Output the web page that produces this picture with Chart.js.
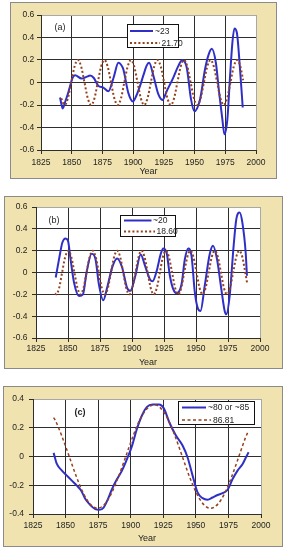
<!DOCTYPE html>
<html><head><meta charset="utf-8">
<script src="https://cdn.jsdelivr.net/npm/chart.js@4.4.1/dist/chart.umd.min.js"></script>
<style>
html,body{margin:0;padding:0;background:#fff;width:287px;height:550px;overflow:hidden;}
.box{position:absolute;box-sizing:border-box;background:#F0E3B0;border:1px solid #8a8a8a;}
canvas{position:absolute;}
</style></head><body>
<div class="box" style="left:10px;top:2px;width:267px;height:177px"></div>
<canvas id="ca" style="left:10px;top:2px" width="267" height="177"></canvas>
<div class="box" style="left:4px;top:196px;width:279px;height:173px"></div>
<canvas id="cb" style="left:4px;top:196px" width="279" height="173"></canvas>
<div class="box" style="left:3px;top:386px;width:280px;height:161px"></div>
<canvas id="cc" style="left:3px;top:386px" width="280" height="161"></canvas>
<script>
// ---------- data ----------
const xTicks = [1825, 1850, 1875, 1900, 1925, 1950, 1975, 2000];
const yTicksAB = [-0.6, -0.4, -0.2, 0, 0.2, 0.4, 0.6];
const yTicksC = [-0.4, -0.2, 0, 0.2, 0.4];
const panelNames = ['(a)', '(b)', '(c)'];

const labelsA = ['~23', '21.70'];
const blueA_x = [1840.5,1842.7,1844.5,1847.2,1850.8,1852.7,1858,1862,1865,1868,1871.7,1875.7,1879.8,1884,1888,1890,1892,1896,1899.8,1902.5,1905.6,1908.5,1911,1913,1916.5,1920.5,1923.8,1927.4,1932.7,1936.8,1940,1943.6,1947.1,1949.8,1954.5,1958.5,1961.5,1964,1967.3,1970,1972.6,1974.3,1976.7,1978.9,1980.8,1982.4,1984.4,1987,1989.2];
const blueA_y = [-0.133,-0.231,-0.178,-0.089,0.044,0.065,0.035,0.05,0.062,0.04,-0.03,-0.045,-0.078,0.04,0.175,0.16,0.118,-0.09,-0.168,-0.12,-0.03,0.07,0.15,0.175,0.06,-0.104,-0.155,-0.075,0.044,0.148,0.2,0.133,-0.148,-0.255,-0.148,0.118,0.25,0.3,0.178,-0.09,-0.326,-0.46,-0.326,0.06,0.356,0.48,0.444,0.118,-0.222];
const dotA_x = [1841.5,1844.2,1846.9,1849.6,1852.3,1855.0,1857.7,1860.4,1863.1,1865.8,1868.5,1871.2,1873.9,1876.6,1879.3,1882.0,1884.7,1887.4,1890.1,1892.8,1895.5,1898.2,1900.9,1903.6,1906.3,1909.0,1911.7,1914.4,1917.1,1919.8,1922.5,1925.2,1927.9,1930.6,1933.3,1936.0,1938.7,1941.4,1944.1,1946.8,1949.5,1952.2,1954.9,1957.6,1960.3,1963.0,1965.7,1968.4,1971.1,1973.8,1976.5,1979.2,1981.9,1984.6,1987.3,1989.5];
const dotA_y = [-0.141,-0.2,-0.141,0,0.141,0.2,0.141,0,-0.141,-0.2,-0.141,0,0.141,0.2,0.141,0,-0.141,-0.2,-0.141,0,0.141,0.2,0.141,0,-0.141,-0.2,-0.141,0,0.141,0.2,0.141,0,-0.141,-0.2,-0.141,0,0.141,0.2,0.141,0,-0.141,-0.2,-0.141,0,0.141,0.2,0.141,0,-0.141,-0.2,-0.141,0,0.141,0.2,0.141,0.02];

const labelsB = ['~20', '18.60'];
const blueB_x = [1840.4,1843,1845.6,1848.1,1850,1852,1854.7,1858.6,1861.7,1864.5,1868.4,1871.5,1874.1,1877.5,1880.6,1884.5,1888.4,1892.3,1896.1,1898.7,1902.6,1906.8,1910.2,1914,1916.1,1919.3,1922.4,1924.4,1927,1929.6,1932.2,1934.8,1938.7,1941.3,1943.9,1946.5,1949.1,1951.7,1953.5,1956.8,1960.7,1963.3,1966.4,1969.8,1972.4,1973.7,1976.3,1979.4,1981.5,1984.1,1986.2,1988.8,1989.8];
const blueB_y = [-0.046,0.122,0.275,0.312,0.29,0.122,-0.092,-0.215,-0.2,0,0.172,0.122,-0.107,-0.255,-0.138,0.046,0.128,0.046,-0.138,-0.168,-0.03,0.165,0.06,-0.061,-0.08,0.015,0.168,0.22,0.183,-0.03,-0.153,-0.19,-0.107,0.122,0.22,0.152,-0.183,-0.337,-0.352,-0.123,0.168,0.244,0.122,-0.153,-0.352,-0.383,-0.214,0.244,0.489,0.55,0.459,0.183,-0.03];
const dotB_x = [1840.0,1840.7,1843.1,1845.4,1847.8,1850.2,1852.6,1855.0,1857.4,1859.7,1862.1,1864.5,1866.9,1869.3,1871.7,1874.1,1876.4,1878.8,1881.2,1883.6,1886.0,1888.4,1890.8,1893.1,1895.5,1897.9,1900.3,1902.7,1905.1,1907.4,1909.8,1912.2,1914.6,1917.0,1919.4,1921.8,1924.1,1926.5,1928.9,1931.3,1933.7,1936.1,1938.5,1940.8,1943.2,1945.6,1948.0,1950.4,1952.8,1955.1,1957.5,1959.9,1962.3,1964.7,1967.1,1969.5,1971.8,1974.2,1976.6,1979.0,1981.4,1983.8,1986.2,1988.5,1990.0];
const dotB_y = [-0.19,-0.2,-0.141,0,0.141,0.2,0.141,0,-0.141,-0.2,-0.141,0,0.141,0.2,0.141,0,-0.141,-0.2,-0.141,0,0.141,0.2,0.141,0,-0.141,-0.2,-0.141,0,0.141,0.2,0.141,0,-0.141,-0.2,-0.141,0,0.141,0.2,0.141,0,-0.141,-0.2,-0.141,0,0.141,0.2,0.141,0,-0.141,-0.2,-0.141,0,0.141,0.2,0.141,0,-0.141,-0.2,-0.141,0,0.141,0.2,0.141,0,-0.1];

const labelsC = ['~80 or ~85', '86.81'];
const blueC_x = [1840.8,1843.3,1847.2,1851,1854.8,1858.7,1862,1865.2,1869,1872.8,1875.9,1879.2,1882.5,1885.6,1889.5,1893.3,1897.2,1901,1904.8,1908.7,1912.5,1916.7,1921.8,1925.6,1929.5,1934.6,1939.8,1943.6,1947.5,1951.3,1955.2,1959,1962.8,1966.7,1970.5,1974.4,1978.2,1982,1985.9,1988.5,1990.5];
const blueC_y = [0.025,-0.052,-0.098,-0.133,-0.168,-0.203,-0.238,-0.296,-0.338,-0.366,-0.371,-0.355,-0.296,-0.227,-0.157,-0.098,-0.017,0.074,0.193,0.287,0.345,0.361,0.361,0.333,0.24,0.147,0.077,-0.005,-0.133,-0.25,-0.29,-0.3,-0.285,-0.268,-0.255,-0.231,-0.157,-0.098,-0.052,-0.005,0.03];
const dashC_x = [1840.8,1841.9,1847.3,1852.8,1858.2,1863.6,1869.0,1874.5,1879.9,1885.3,1890.7,1896.2,1901.6,1907.0,1912.5,1917.9,1923.3,1928.8,1934.2,1939.6,1945.0,1950.5,1955.9,1961.3,1966.7,1972.2,1977.6,1983.0,1988.4,1990.5];
const dashC_y = [0.27,0.255,0.138,0,-0.138,-0.255,-0.333,-0.36,-0.333,-0.255,-0.138,0,0.138,0.255,0.333,0.36,0.333,0.255,0.138,0,-0.138,-0.255,-0.333,-0.36,-0.333,-0.255,-0.138,0,0.138,0.18];

// ---------- helpers ----------
const BLUE = '#2F2FC8';
const BROWN = '#94421E';
const GRID = '#2e2e2e';
const FONT = 'Liberation Sans, Arial, sans-serif';
const TXT = '#1e1e1e';
const pts = (xs, ys) => xs.map((x, i) => ({x: x, y: ys[i]}));
const fmtY = v => Math.abs(v) < 1e-9 ? '0' : v.toFixed(1);

const plotBg = {
  id: 'plotBg',
  beforeDraw(chart) {
    const a = chart.chartArea, c = chart.ctx;
    c.save(); c.fillStyle = '#fff';
    c.fillRect(a.left, a.top, a.right - a.left, a.bottom - a.top);
    c.restore();
  }
};
const boxLegend = {
  id: 'boxLegend',
  afterDatasetsDraw(chart, args, o) {
    const c = chart.ctx;
    c.save();
    c.fillStyle = '#fff'; c.fillRect(o.x, o.y, o.w, o.h);
    c.strokeStyle = '#111'; c.lineWidth = 1;
    c.strokeRect(o.x + 0.5, o.y + 0.5, o.w - 1, o.h - 1);
    chart.data.datasets.forEach((ds, i) => {
      const r = o.rows[i];
      c.beginPath();
      c.setLineDash(ds.borderDash || []);
      c.strokeStyle = ds.borderColor; c.lineWidth = ds.borderWidth;
      c.moveTo(r.x1, r.y); c.lineTo(r.x2, r.y); c.stroke();
      c.setLineDash([]);
      c.fillStyle = TXT; c.font = o.font; c.textBaseline = 'middle'; c.textAlign = 'left';
      c.fillText(ds.label, r.tx, r.y + 0.5);
    });
    c.restore();
  }
};
const panelLabel = {
  id: 'panelLabel',
  afterDatasetsDraw(chart, args, o) {
    const c = chart.ctx;
    c.save(); c.fillStyle = TXT; c.font = o.font;
    c.textAlign = 'center'; c.textBaseline = 'middle';
    c.fillText(o.text, o.x, o.y);
    c.restore();
  }
};

function makeChart(id, p) {
  const yMax = p.yTicks[p.yTicks.length - 1], yMin = p.yTicks[0];
  return new Chart(document.getElementById(id), {
    type: 'line',
    data: { datasets: [
      { label: p.labels[0], data: pts(p.bx, p.by), borderColor: BLUE, borderWidth: 2, pointRadius: 0,
        cubicInterpolationMode: 'monotone', fill: false, order: 1 },
      { label: p.labels[1], data: pts(p.dx, p.dy), borderColor: BROWN, borderWidth: p.dw, borderDash: p.dash,
        pointRadius: 0, cubicInterpolationMode: 'monotone', fill: false, order: 0 }
    ]},
    options: {
      responsive: false, animation: false, events: [],
      layout: { padding: { top: p.padTop, right: p.padRight, bottom: 0, left: 0 } },
      plugins: {
        legend: { display: false }, tooltip: { enabled: false },
        boxLegend: p.legend,
        panelLabel: p.panel
      },
      scales: {
        x: {
          type: 'linear', min: 1825, max: 2000,
          afterBuildTicks: s => { s.ticks = xTicks.map(v => ({ value: v })); },
          afterFit: s => { s.height = p.xh; },
          grid: { color: c => (c.tick && c.tick.value === 2000) ? '#a8a8a8' : GRID, lineWidth: 1, tickLength: 4, tickColor: GRID },
          border: { color: GRID, width: 1 },
          ticks: { font: { family: FONT, size: 8.5 }, color: TXT, padding: p.xtp, maxRotation: 0, autoSkip: false,
                   callback: v => String(v) },
          title: { display: true, text: 'Year', font: { family: FONT, size: 9 }, color: TXT, padding: { top: 0, bottom: p.tpb } }
        },
        y: {
          min: yMin, max: yMax,
          afterBuildTicks: s => { s.ticks = p.yTicks.map(v => ({ value: v })); },
          afterFit: s => { s.width = p.yw; },
          grid: { color: c => (c.tick && Math.abs(c.tick.value - yMax) < 1e-9) ? '#a8a8a8' : GRID, lineWidth: 1, tickLength: 4, tickColor: GRID },
          border: { color: GRID, width: 1 },
          ticks: { font: { family: FONT, size: 8.5 }, color: TXT, padding: p.ytp, callback: v => fmtY(v), autoSkip: false }
        }
      }
    },
    plugins: [plotBg, boxLegend, panelLabel]
  });
}

const LF = '8.5px ' + FONT;
makeChart('ca', {
  labels: labelsA, bx: blueA_x, by: blueA_y, dx: dotA_x, dy: dotA_y, dw: 2, dash: [2, 2.2],
  yTicks: yTicksAB, padTop: 13, padRight: 21, yw: 31, xh: 29, xtp: 3.5, ytp: 2.7, tpb: 1.6,
  legend: { x: 117, y: 22, w: 52, h: 24, font: LF,
    rows: [ { x1: 120, x2: 143, y: 29, tx: 145 }, { x1: 120, x2: 150, y: 41, tx: 151.5 } ] },
  panel: { text: panelNames[0], x: 50, y: 25.5, font: '9px ' + FONT }
});
makeChart('cb', {
  labels: labelsB, bx: blueB_x, by: blueB_y, dx: dotB_x, dy: dotB_y, dw: 2, dash: [2, 2.2],
  yTicks: yTicksAB, padTop: 11, padRight: 23, yw: 32, xh: 31, xtp: 1.9, ytp: 4.5, tpb: 0.9,
  legend: { x: 116, y: 19, w: 56, h: 22, font: LF,
    rows: [ { x1: 120, x2: 147.5, y: 24.5, tx: 149 }, { x1: 120, x2: 151, y: 35.5, tx: 152.5 } ] },
  panel: { text: panelNames[1], x: 50, y: 24.5, font: '9px ' + FONT }
});
makeChart('cc', {
  labels: labelsC, bx: blueC_x, by: blueC_y, dx: dashC_x, dy: dashC_y, dw: 1.5, dash: [3, 2.5],
  yTicks: yTicksC, padTop: 13, padRight: 22, yw: 30, xh: 33, xtp: 2.6, ytp: 5, tpb: 2.6,
  legend: { x: 175, y: 15, w: 77, h: 24, font: LF,
    rows: [ { x1: 179, x2: 203, y: 21.5, tx: 205 }, { x1: 179, x2: 208, y: 34, tx: 210 } ] },
  panel: { text: panelNames[2], x: 77, y: 27, font: 'bold 9px ' + FONT }
});
</script>
</body></html>
